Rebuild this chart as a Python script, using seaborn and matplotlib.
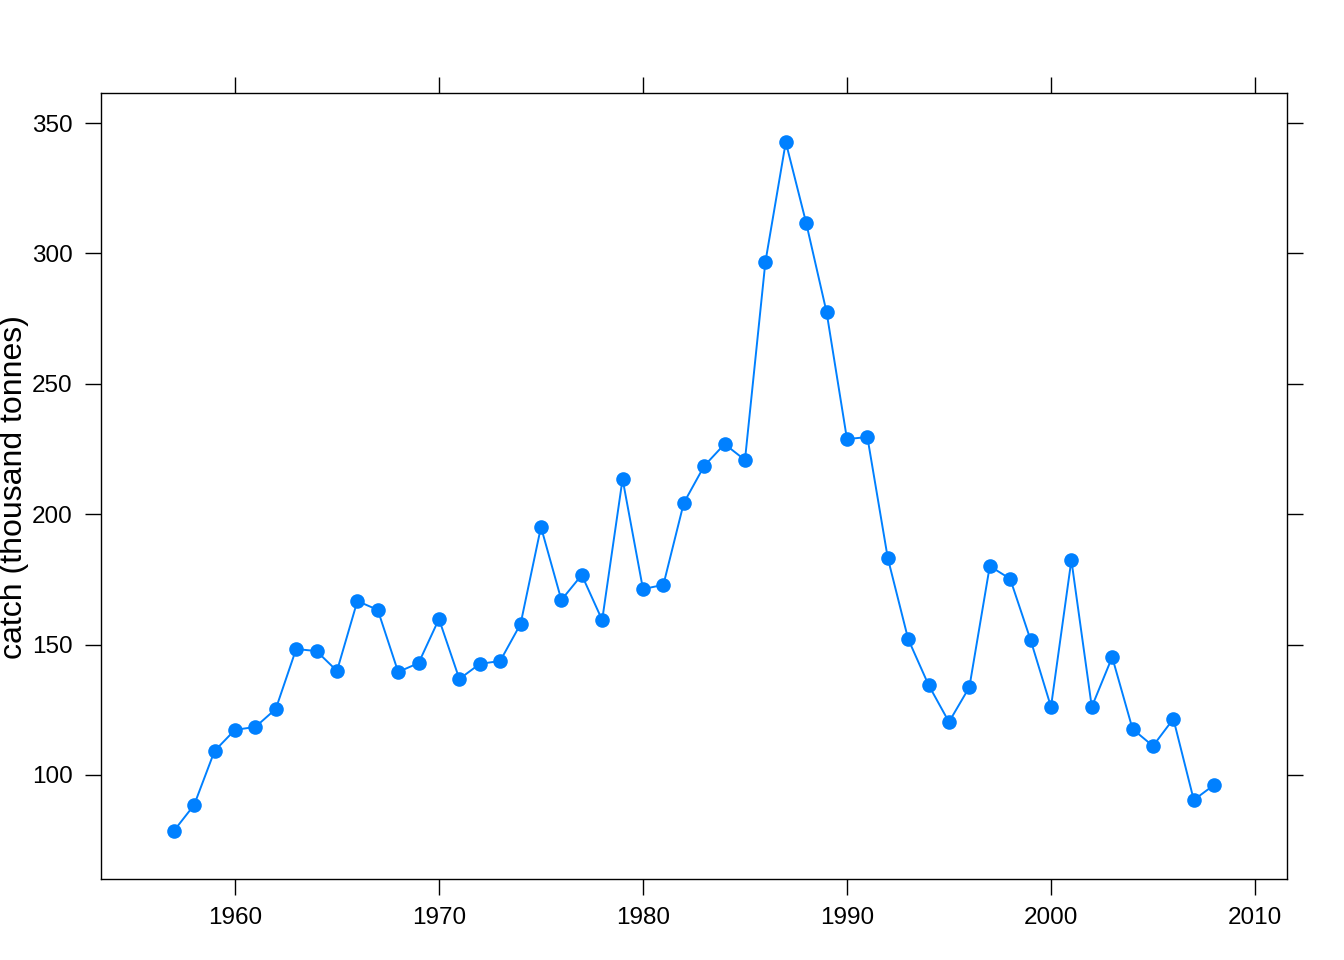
import matplotlib
matplotlib.use("Agg")
import matplotlib.pyplot as plt
import pandas as pd
import seaborn as sns

# catch per year
years = list(range(1957, 2009))
catch = [
    78.5, 88.5, 109.2, 117.3, 118.4, 125.3, 148.3, 147.5, 139.9, 166.7,
    163.3, 139.5, 142.9, 159.8, 136.8, 142.6, 143.7, 157.9, 195.1, 167.1,
    176.7, 159.4, 213.5, 171.3, 172.9, 204.3, 218.5, 226.9, 220.8, 296.7,
    342.7, 311.7, 277.5, 228.8, 229.6, 183.2, 152.1, 134.5, 120.3, 133.7,
    180.1, 175.2, 151.8, 126.1, 182.4, 126.1, 145.2, 117.6, 111.1, 121.5,
    90.4, 96.2,
]
x_ticks = [1960, 1970, 1980, 1990, 2000, 2010]
y_ticks = [100, 150, 200, 250, 300, 350]

df = pd.DataFrame({"year": years, "catch": catch})

sns.set_theme(style="ticks")
plt.rcParams["font.family"] = ["Liberation Sans", "DejaVu Sans"]
plt.rcParams["text.color"] = "black"
plt.rcParams["xtick.labelcolor"] = "black"
plt.rcParams["ytick.labelcolor"] = "black"

fig = plt.figure(figsize=(13.44, 9.6), dpi=100)
ax = fig.add_axes([0.0751, 0.0844, 0.8825, 0.8186])

sns.lineplot(
    data=df, x="year", y="catch", ax=ax,
    color="#0080ff", linewidth=1.4,
    marker="o", markersize=10.5, markeredgewidth=0,
)

ax.set_xlim(1953.43, 2011.57)
ax.set_ylim(60.1, 361.5)
ax.set_xticks(x_ticks)
ax.set_yticks(y_ticks)
ax.set_xlabel("")
ax.set_ylabel("")
fig.text(14 / 1344, 1 - 487 / 960, "catch (thousand tonnes)",
         rotation=90, ha="center", va="center", fontsize=23, color="black")

for side in ["top", "right", "bottom", "left"]:
    ax.spines[side].set_visible(True)
    ax.spines[side].set_linewidth(1.0)
    ax.spines[side].set_color("black")

ax.tick_params(
    axis="both", which="major", direction="out", length=11.5, width=1.0,
    color="black", labelsize=17.5, top=True, right=True,
    labeltop=False, labelright=False, pad=9,
)

fig.savefig("out.png", dpi=100)
